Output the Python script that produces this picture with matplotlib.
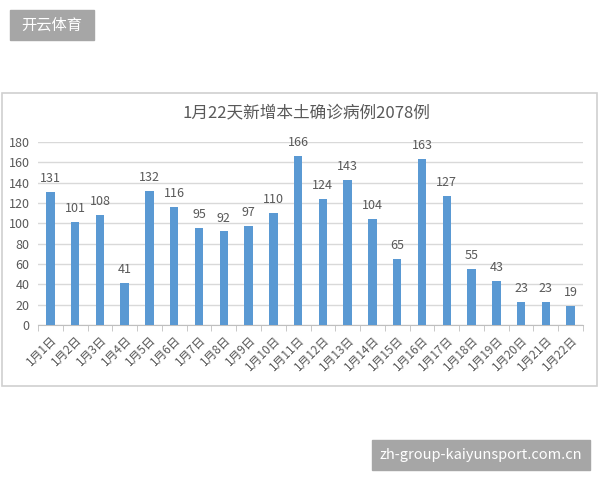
import matplotlib
matplotlib.use("Agg")
import matplotlib.pyplot as plt
from matplotlib.patches import Rectangle

plt.rcParams['font.family'] = ['Noto Sans CJK SC', 'DejaVu Sans']

categories = [f"1月{d}日" for d in range(1, 23)]
values = [131, 101, 108, 41, 132, 116, 95, 92, 97, 110, 166, 124, 143, 104,
          65, 163, 127, 55, 43, 23, 23, 19]
yticks = [0, 20, 40, 60, 80, 100, 120, 140, 160, 180]
title = "1月22天新增本土确诊病例2078例"

text_c = "#595959"
bar_c = "#5a99d3"
grid_c = "#d9d9d9"

fig = plt.figure(figsize=(6, 4.8), dpi=100)
W, H = 600, 480

def fx(x): return x / W
def fy(y): return 1 - y / H

# chart frame
fig.patches.append(Rectangle((fx(2), fy(386)), fx(597) - fx(2), fy(93) - fy(386),
                             transform=fig.transFigure, fill=False,
                             edgecolor="#d0d0d0", linewidth=1.2))

ax = fig.add_axes([fx(38), fy(325), fx(583) - fx(38), fy(142) - fy(325)])
x = list(range(len(values)))
ax.bar(x, values, width=0.34, color=bar_c, zorder=3)
ax.set_xlim(-0.5, len(values) - 0.5)
ax.set_ylim(0, 180)
ax.set_yticks(yticks)
ax.set_yticklabels([str(v) for v in yticks], fontsize=9, color=text_c)
ax.yaxis.grid(True, color=grid_c, linewidth=1)
ax.set_axisbelow(True)
for s in ['top', 'right', 'left']:
    ax.spines[s].set_visible(False)
ax.spines['bottom'].set_color("#bfbfbf")
ax.tick_params(axis='y', length=0, pad=6)

# category labels and boundary ticks
ax.set_xticks(x)
ax.set_xticklabels(categories, rotation=45, ha='right', rotation_mode='anchor',
                   fontsize=8.5, color=text_c)
ax.tick_params(axis='x', length=0, pad=6)
ax.set_xticks([i - 0.5 for i in range(len(values) + 1)], minor=True)
ax.tick_params(axis='x', which='minor', length=4, color="#bfbfbf")

for xi, v in zip(x, values):
    ax.annotate(str(v), (xi, v), xytext=(0, 5), textcoords='offset points',
                ha='center', va='bottom', fontsize=9, color=text_c)

fig.text(fx(306), fy(113), title, ha='center', va='center', fontsize=12, color=text_c)

# watermark boxes
fig.patches.append(Rectangle((fx(10), fy(40)), fx(94) - fx(10), fy(10) - fy(40),
                             transform=fig.transFigure, color="#a6a6a6"))
fig.text(fx(52), fy(25), "开云体育", ha='center', va='center', fontsize=11, color="white")
fig.patches.append(Rectangle((fx(372), fy(470)), fx(590) - fx(372), fy(440) - fy(470),
                             transform=fig.transFigure, color="#a6a6a6"))
fig.text(fx(481), fy(455), "zh-group-kaiyunsport.com.cn", ha='center', va='center',
         fontsize=10.5, color="white")

fig.savefig("out.png", dpi=100)
